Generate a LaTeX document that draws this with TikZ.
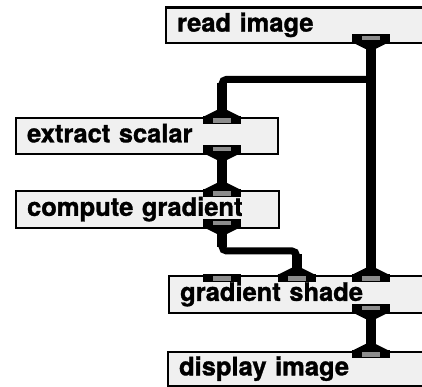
\documentclass[tikz,border=0pt]{standalone}
\usepackage{fontspec}
\setmainfont[BoldFeatures={FakeBold=1.2}]{TeX Gyre Heros}
\begin{document}
\begin{tikzpicture}[x=1pt,y=1pt,
  box/.style={draw, line width=2.2pt, fill=black!6, inner xsep=11pt, inner ysep=0pt,
    anchor=north west, text height=12.5pt, text depth=0pt, align=left,
    font=\bfseries\fontsize{25.5}{30}\selectfont},
  vline/.style={line width=10pt},
  hline/.style={line width=7pt, rounded corners=4.5pt},
  dith/.style={fill=black!45},
  portup/.pic={
    \fill (-19,-7.5) rectangle (19,0.5);
    \fill[dith] (-9,-6) rectangle (9,-1.5);
    \fill (-19,0) -- (19,0) -- (5,7) -- (-5,7) -- cycle;
  },
  portbare/.pic={
    \fill (-19,-7.5) rectangle (19,0.5);
    \fill[dith] (-9,-6) rectangle (9,-1.5);
  }]
\clip (0,0) rectangle (422,387);

% boxes
\node[box, minimum width=265pt, minimum height=35.5pt, text width=243pt] (read) at (165,380.5) {read image};
\node[box, minimum width=262pt, minimum height=36pt, text width=240pt] (extract) at (15,270) {extract scalar};
\node[box, minimum width=263pt, minimum height=37pt, text width=241pt] (compute) at (15,197) {compute gradient};
\node[box, minimum width=262pt, minimum height=37pt, text width=240pt] (shade) at (168,112) {gradient shade};
\node[box, minimum width=263pt, minimum height=34pt, text width=241pt] (display) at (167,36) {display image};

% port ends
\coordinate (rOut) at (370.5,338.5);
\coordinate (eIn) at (222,276.5);
\coordinate (eOut) at (222,227.5);
\coordinate (cIn) at (222,203.5);
\coordinate (cOut) at (222,153.5);
\coordinate (sInB) at (296.5,118.5);
\coordinate (sInC) at (370.5,118.5);
\coordinate (sOut) at (370.5,68.5);
\coordinate (dIn) at (370.5,42.5);
\coordinate (jn) at (370.5,307.6);
\coordinate (eTop) at (222,304.4);
\coordinate (bend) at (296.5,136);
\coordinate (cLow) at (222,139.5);
\coordinate (bLow) at (296.5,132.5);

% connectors
\draw[vline] (rOut) -- (sInC);
\draw[hline] (jn) -| (eIn);
\draw[vline] (eTop) -- (eIn);
\draw[vline] (eOut) -- (cIn);
\draw[hline] (cOut) |- (bend) -- (sInB);
\draw[vline] (cOut) -- (cLow);
\draw[vline] (bLow) -- (sInB);
\draw[vline] (sOut) -- (dIn);

% ports
\pic[yscale=-1] at (370.5,345) {portup};
\pic at (222,270) {portup};
\pic[yscale=-1] at (222,234) {portup};
\pic at (222,197) {portup};
\pic[yscale=-1] at (222,160) {portup};
\pic at (221.5,112) {portbare};
\pic at (296.5,112) {portup};
\pic at (370.5,112) {portup};
\pic[yscale=-1] at (370.5,75) {portup};
\pic at (370.5,36) {portup};
\end{tikzpicture}
\end{document}
